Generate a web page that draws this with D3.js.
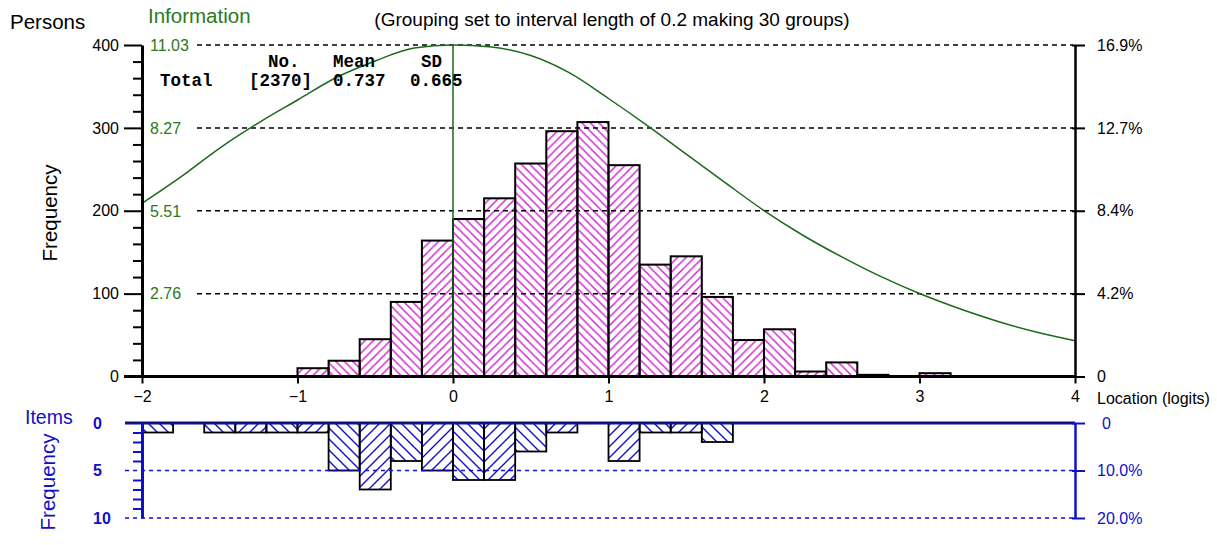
<!DOCTYPE html>
<html>
<head>
<meta charset="utf-8">
<script src="https://cdn.jsdelivr.net/npm/d3@7"></script>
<style>
  html, body { margin: 0; padding: 0; background: #ffffff; }
  svg { display: block; font-family: "Liberation Sans", Arial, sans-serif; }
</style>
</head>
<body>
<script>
// ---------- data ----------
const binStarts = [-2.0, -1.8, -1.6, -1.4, -1.2, -1.0, -0.8, -0.6, -0.4, -0.2,
                    0.0,  0.2,  0.4,  0.6,  0.8,  1.0,  1.2,  1.4,  1.6,  1.8,
                    2.0,  2.2,  2.4,  2.6,  2.8,  3.0,  3.2,  3.4,  3.6,  3.8];
const binWidth = 0.2;
const personCounts = [0, 0, 0, 0, 0, 10, 19, 45, 90, 164,
                      190, 215, 257, 296, 307, 255, 135, 145, 96, 44,
                      57, 6, 17, 2, 0, 4, 0, 0, 0, 0];
const itemCounts = [1, 0, 1, 1, 1, 1, 5, 7, 4, 5,
                    6, 6, 3, 1, 0, 4, 1, 1, 2, 0,
                    0, 0, 0, 0, 0, 0, 0, 0, 0, 0];
const infoLogits = [-2.0, -1.75, -1.5, -1.25, -1.0, -0.75, -0.5, -0.25, 0.0, 0.25, 0.5, 0.75,
                    1.0, 1.25, 1.5, 1.75, 2.0, 2.25, 2.5, 2.75, 3.0, 3.25, 3.5, 3.75, 4.0];
const infoValues = [5.76, 6.64, 7.6, 8.44, 9.2, 9.95, 10.5, 10.93, 11.03, 10.96, 10.68, 10.1,
                    9.25, 8.35, 7.4, 6.45, 5.52, 4.7, 3.98, 3.33, 2.76, 2.27, 1.84, 1.48, 1.19];
const xTicks = [-2, -1, 0, 1, 2, 3, 4];
const freqTicks = [0, 100, 200, 300, 400];
const freqMinorTicks = [20, 40, 60, 80, 120, 140, 160, 180, 220, 240, 260, 280, 320, 340, 360, 380];
const pctLabels = ["0", "4.2%", "8.4%", "12.7%", "16.9%"];
const infoTickValues = [2.76, 5.51, 8.27, 11.03];
const infoTickLabels = ["2.76", "5.51", "8.27", "11.03"];
const itemTicks = [0, 5, 10];
const itemMinorTicks = [1, 2, 3, 4, 6, 7, 8, 9];
const itemPctLabels = ["0", "10.0%", "20.0%"];
const statsHeader = ["No.", "Mean", "SD"];
const statsRow = ["Total", "[2370]", "0.737", "0.665"];
const infoMaxLogit = 0.0;

// ---------- setup ----------
const W = 1217, H = 545;
const svg = d3.select("body").append("svg").attr("width", W).attr("height", H);

const SANS = "'Liberation Sans', Arial, sans-serif";
const MONO = "'Liberation Mono', 'Courier New', monospace";
const BLUE = "#1010c8";
const GREEN = "#2a7a1c";
const CURVE = "#1a6a1a";
const PINK = "#d024d0";

const x = d3.scaleLinear().domain([-2, 4]).range([142, 1075]);
const yMain = d3.scaleLinear().domain([0, 400]).range([376.5, 45]);
const yInfo = d3.scaleLinear().domain([0, 11.03]).range([376.5, 45]);
const yItem = d3.scaleLinear().domain([0, 10]).range([423, 518]);

// patterns
const defs = svg.append("defs");
function hatch(id, size, color, dir, sw) {
  const p = defs.append("pattern").attr("id", id).attr("patternUnits", "userSpaceOnUse")
    .attr("width", size).attr("height", size);
  const s = size;
  const d = dir === "/"
    ? `M0,${s} L${s},0 M${-s/4},${s/4} L${s/4},${-s/4} M${3*s/4},${5*s/4} L${5*s/4},${3*s/4}`
    : `M0,0 L${s},${s} M${-s/4},${3*s/4} L${s/4},${5*s/4} M${3*s/4},${-s/4} L${5*s/4},${s/4}`;
  p.append("path").attr("d", d).attr("stroke", color).attr("stroke-width", sw).attr("fill", "none");
}
hatch("pinkF", 8.5, PINK, "/", 1.5);
hatch("pinkB", 8.5, PINK, "\\", 1.5);
hatch("blueF", 11, BLUE, "/", 1.4);
hatch("blueB", 11, BLUE, "\\", 1.4);

function styleText(sel, size, color) {
  sel.style("font-family", SANS).style("font-size", size + "px").attr("fill", color);
}

// ---------- main histogram ----------
const persons = binStarts.map((b, i) => ({ b, v: personCounts[i], i })).filter(d => d.v > 0);
svg.append("g").selectAll("rect").data(persons).join("rect")
  .attr("x", d => x(d.b))
  .attr("width", d => x(d.b + binWidth) - x(d.b))
  .attr("y", d => yMain(d.v))
  .attr("height", d => yMain(0) - yMain(d.v))
  .attr("fill", d => d.i % 2 === 1 ? "url(#pinkF)" : "url(#pinkB)")
  .attr("stroke", "#000").attr("stroke-width", 2);

// dashed gridlines
svg.append("g").selectAll("line").data(freqTicks.slice(1)).join("line")
  .attr("x1", 197).attr("x2", 1073)
  .attr("y1", d => yMain(d)).attr("y2", d => yMain(d))
  .attr("stroke", "#000").attr("stroke-width", 1.5).attr("stroke-dasharray", "5,4");

// information curve
const line = d3.line().x(d => x(d[0])).y(d => yInfo(d[1])).curve(d3.curveMonotoneX);
svg.append("path").datum(infoLogits.map((l, i) => [l, infoValues[i]]))
  .attr("d", line).attr("fill", "none").attr("stroke", CURVE).attr("stroke-width", 1.5);
svg.append("line")
  .attr("x1", x(infoMaxLogit)).attr("x2", x(infoMaxLogit))
  .attr("y1", yInfo(11.03)).attr("y2", yInfo(0))
  .attr("stroke", CURVE).attr("stroke-width", 1.5);

// left axis (frequency)
const gLeft = svg.append("g").attr("transform", `translate(${x(-2)},0)`);
gLeft.call(d3.axisLeft(yMain).tickValues(freqTicks).tickSize(18).tickSizeOuter(0).tickPadding(5));
gLeft.selectAll(".domain").attr("stroke-width", 3).attr("stroke", "#000");
gLeft.selectAll(".tick line").attr("stroke-width", 2).attr("stroke", "#000");
styleText(gLeft.selectAll(".tick text"), 16, "#000");
const gLeftMinor = svg.append("g").attr("transform", `translate(${x(-2)},0)`);
gLeftMinor.call(d3.axisLeft(yMain).tickValues(freqMinorTicks).tickSize(9).tickSizeOuter(0).tickFormat(""));
gLeftMinor.selectAll(".domain").remove();
gLeftMinor.selectAll(".tick line").attr("stroke-width", 2).attr("stroke", "#000");

// info labels (green, inside)
styleText(svg.append("g").selectAll("text").data(infoTickValues).join("text")
  .attr("x", 150).attr("y", d => yInfo(d)).attr("dy", "0.36em")
  .text((d, i) => infoTickLabels[i]), 16, GREEN);

// right axis (percent)
const gRight = svg.append("g").attr("transform", `translate(${x(4)},0)`);
gRight.call(d3.axisRight(yMain).tickValues(freqTicks).tickSize(10).tickSizeOuter(0).tickPadding(12)
  .tickFormat((d, i) => pctLabels[i]));
gRight.selectAll(".domain").attr("stroke-width", 2.5).attr("stroke", "#000");
gRight.selectAll(".tick line").attr("stroke-width", 2).attr("stroke", "#000").attr("x1", -3);
styleText(gRight.selectAll(".tick text"), 16, "#000");

// x axis
const gX = svg.append("g").attr("transform", `translate(0,${yMain(0)})`);
gX.call(d3.axisBottom(x).tickValues(xTicks).tickSize(7).tickSizeOuter(0).tickPadding(7)
  .tickFormat(d3.format("d")));
gX.selectAll(".domain").remove();
gX.selectAll(".tick line").attr("stroke-width", 2).attr("stroke", "#000");
styleText(gX.selectAll(".tick text"), 16, "#000");
svg.append("line").attr("x1", 124).attr("x2", x(4)).attr("y1", yMain(0)).attr("y2", yMain(0))
  .attr("stroke", "#000").attr("stroke-width", 3);

// ---------- items histogram ----------
const items = binStarts.map((b, i) => ({ b, v: itemCounts[i], i })).filter(d => d.v > 0);
svg.append("g").selectAll("rect").data(items).join("rect")
  .attr("x", d => x(d.b))
  .attr("width", d => x(d.b + binWidth) - x(d.b))
  .attr("y", yItem(0))
  .attr("height", d => yItem(d.v) - yItem(0))
  .attr("fill", d => d.i % 2 === 1 ? "url(#blueF)" : "url(#blueB)")
  .attr("stroke", "#000").attr("stroke-width", 1.8);

svg.append("g").selectAll("line").data(itemTicks.slice(1)).join("line")
  .attr("x1", 125).attr("x2", 1073)
  .attr("y1", d => yItem(d)).attr("y2", d => yItem(d))
  .attr("stroke", BLUE).attr("stroke-width", 1.5).attr("stroke-dasharray", "4,4");

svg.append("line").attr("x1", 125).attr("x2", x(4)).attr("y1", yItem(0)).attr("y2", yItem(0))
  .attr("stroke", "#101080").attr("stroke-width", 3);

const gIL = svg.append("g").attr("transform", `translate(${x(-2)},0)`);
gIL.call(d3.axisLeft(yItem).tickValues(itemTicks).tickSize(0).tickSizeOuter(0).tickFormat(""));
gIL.selectAll(".domain").attr("stroke-width", 3).attr("stroke", BLUE);
const gILm = svg.append("g").attr("transform", `translate(${x(-2)},0)`);
gILm.call(d3.axisLeft(yItem).tickValues(itemMinorTicks).tickSize(9).tickSizeOuter(0).tickFormat(""));
gILm.selectAll(".domain").remove();
gILm.selectAll(".tick line").attr("stroke-width", 2).attr("stroke", BLUE);
styleText(svg.append("g").selectAll("text").data(itemTicks).join("text")
  .attr("x", 93).attr("y", d => yItem(d)).attr("dy", "0.36em")
  .style("font-weight", "bold")
  .text(d => d), 16, BLUE);

const gIR = svg.append("g").attr("transform", `translate(${x(4)},0)`);
gIR.call(d3.axisRight(yItem).tickValues(itemTicks).tickSize(10).tickSizeOuter(0).tickPadding(12)
  .tickFormat((d, i) => itemPctLabels[i]));
gIR.selectAll(".domain").attr("stroke-width", 2.5).attr("stroke", BLUE);
gIR.selectAll(".tick line").attr("stroke-width", 2).attr("stroke", BLUE).attr("x1", -3);
styleText(gIR.selectAll(".tick text").attr("dx", (d, i) => i === 0 ? 5 : 0), 16, BLUE);

// ---------- texts ----------
styleText(svg.append("text").attr("x", 10).attr("y", 29).text("Persons"), 20.5, "#000");
styleText(svg.append("text").attr("x", 148).attr("y", 23).text("Information"), 20.5, GREEN);
styleText(svg.append("text").attr("x", 612).attr("y", 26).attr("text-anchor", "middle")
  .text("(Grouping set to interval length of 0.2 making 30 groups)"), 19, "#000");
styleText(svg.append("text").attr("transform", "translate(57,213) rotate(-90)").attr("text-anchor", "middle")
  .text("Frequency"), 20.5, "#000");
styleText(svg.append("text").attr("x", 1097).attr("y", 404).text("Location (logits)"), 16, "#000");
styleText(svg.append("text").attr("x", 25).attr("y", 424).text("Items"), 19.5, BLUE);
styleText(svg.append("text").attr("transform", "translate(55,482) rotate(-90)").attr("text-anchor", "middle")
  .text("Frequency"), 20.5, BLUE);

const hdrX = [268, 333, 421];
svg.append("g").selectAll("text").data(statsHeader).join("text")
  .attr("x", (d, i) => hdrX[i]).attr("y", 67)
  .style("font-family", MONO).style("font-size", "17.5px").style("font-weight", "bold")
  .attr("fill", "#000").text(d => d);
const rowX = [160, 249, 333, 410];
svg.append("g").selectAll("text").data(statsRow).join("text")
  .attr("x", (d, i) => rowX[i]).attr("y", 86)
  .style("font-family", MONO).style("font-size", "17.5px").style("font-weight", "bold")
  .attr("fill", "#000").text(d => d);
</script>
</body>
</html>
